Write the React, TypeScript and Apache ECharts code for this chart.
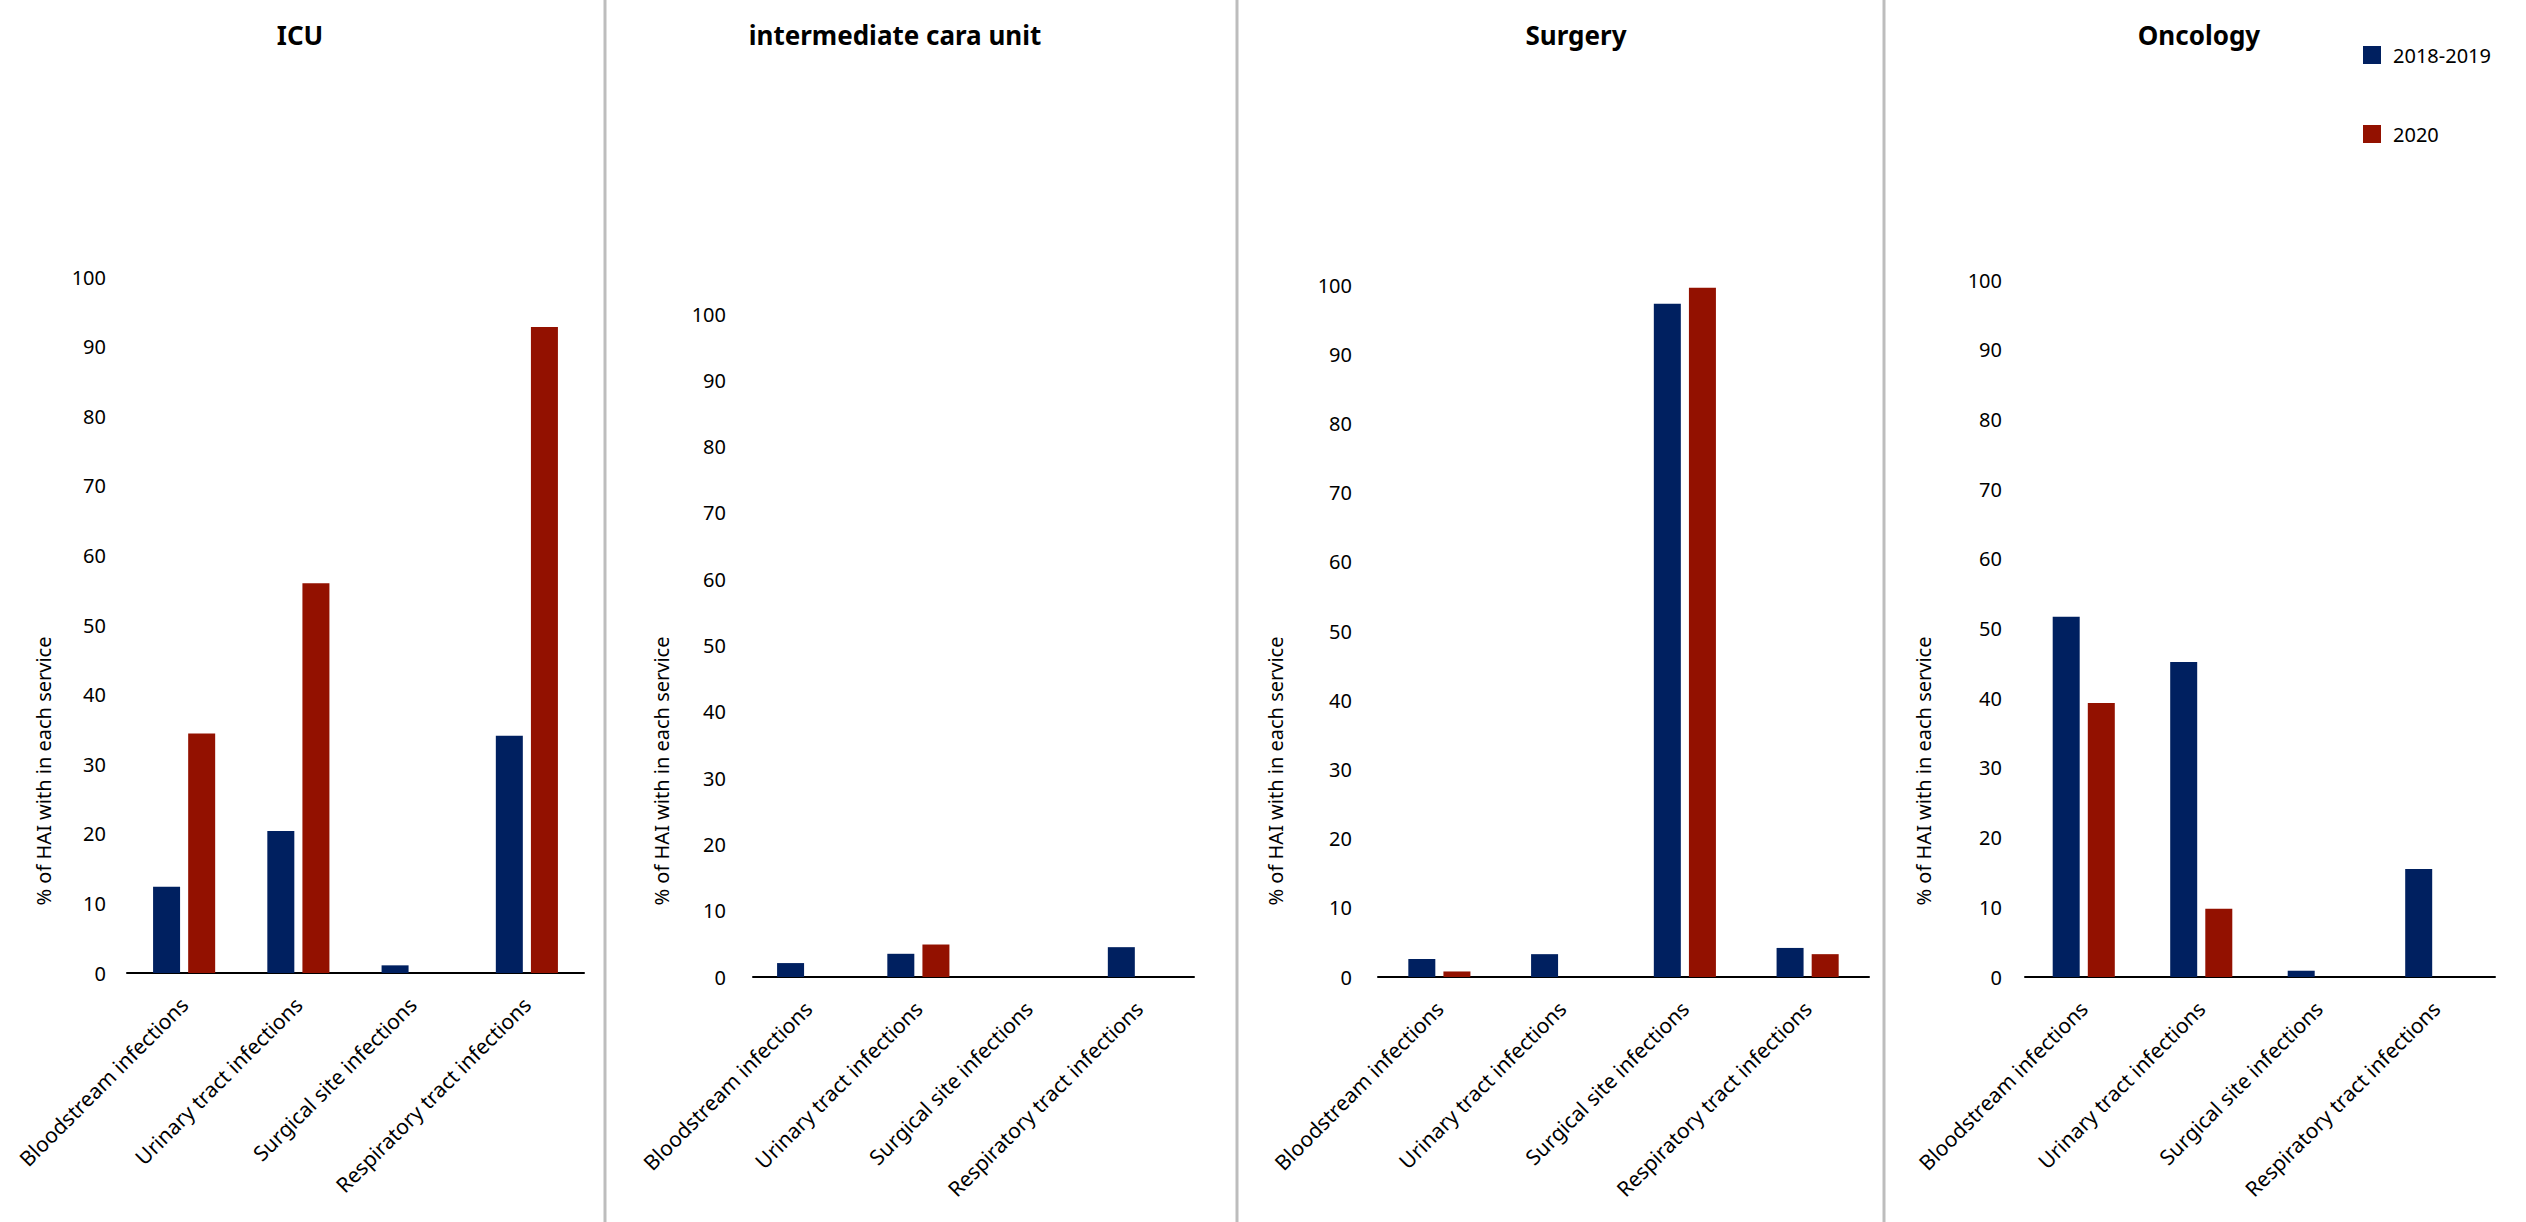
import { useEffect, useRef } from 'react';
import * as echarts from 'echarts';

const categories = [
  'Bloodstream infections',
  'Urinary tract infections',
  'Surgical site infections',
  'Respiratory tract infections',
];
const seriesNames = ['2018-2019', '2020'];
const panelTitles = ['ICU', 'intermediate cara unit', 'Surgery', 'Oncology'];

// % of HAI per service
const icu2018 = [12.4, 20.4, 1.1, 34.1];
const icu2020 = [34.4, 56.0, 0, 92.8];
const imc2018 = [2.1, 3.5, 0, 4.5];
const imc2020 = [0, 4.9, 0, 0];
const surgery2018 = [2.6, 3.3, 97.3, 4.2];
const surgery2020 = [0.8, 0, 99.6, 3.3];
const oncology2018 = [51.7, 45.2, 0.9, 15.5];
const oncology2020 = [39.3, 9.8, 0, 0];

const yTicks = [0, 10, 20, 30, 40, 50, 60, 70, 80, 90, 100];
const yAxisName = '% of HAI with in each service';

const BLUE = '#002060';
const RED = '#931100';
const FONT = '"Noto Sans", "Open Sans", sans-serif';

// panel geometry (px)
const panels = [
  { left: 127, width: 457, top: 277, bottom: 973, labelMargin: 21, titleX: 295, nameX: 43, data: [icu2018, icu2020] },
  { left: 753, width: 441, top: 314, bottom: 977, labelMargin: 27, titleX: 890, nameX: 661, data: [imc2018, imc2020] },
  { left: 1378, width: 491, top: 285, bottom: 977, labelMargin: 26, titleX: 1571, nameX: 1275, data: [surgery2018, surgery2020] },
  { left: 2025, width: 470, top: 280, bottom: 977, labelMargin: 23, titleX: 2194, nameX: 1923, data: [oncology2018, oncology2020] },
];
const separators = [605, 1237, 1884];

export default function App() {
  const chartRef = useRef<HTMLDivElement>(null);

  useEffect(() => {
    if (!chartRef.current) return;
    const chart = echarts.init(chartRef.current, undefined, { renderer: 'svg' });

    const option: echarts.EChartsOption = {
      animation: false,
      backgroundColor: '#ffffff',
      title: panels.map((p, i) => ({
        text: panelTitles[i],
        left: p.titleX,
        top: 17,
        textAlign: 'center',
        textStyle: { fontFamily: FONT, fontWeight: 'bold', fontSize: 26, color: '#000' },
      })),
      legend: {
        orient: 'vertical',
        left: 2358,
        top: 40,
        itemWidth: 18,
        itemHeight: 18,
        itemGap: 59,
        icon: 'rect',
        data: seriesNames,
        textStyle: { fontFamily: FONT, fontSize: 20, color: '#000', padding: [0, 0, 0, 7] },
      },
      grid: panels.map((p) => ({
        left: p.left,
        width: p.width,
        top: p.top,
        height: p.bottom - p.top,
        containLabel: false,
      })),
      xAxis: panels.map((p, i) => ({
        type: 'category',
        gridIndex: i,
        data: categories,
        axisLine: { show: true, lineStyle: { color: '#000', width: 2 } },
        axisTick: { show: false },
        axisLabel: {
          interval: 0,
          rotate: 45,
          margin: 28,
          fontFamily: FONT,
          fontSize: 21,
          color: '#000',
        },
      })),
      yAxis: panels.map((p, i) => ({
        type: 'value',
        gridIndex: i,
        min: yTicks[0],
        max: yTicks[yTicks.length - 1],
        interval: 10,
        axisLine: { show: false },
        axisTick: { show: false },
        splitLine: { show: false },
        axisLabel: { margin: p.labelMargin, fontFamily: FONT, fontSize: 20, color: '#000' },
      })),
      series: panels.flatMap((p, i) =>
        seriesNames.map((name, s) => ({
          name,
          type: 'bar' as const,
          xAxisIndex: i,
          yAxisIndex: i,
          barWidth: 27,
          barGap: '30%',
          itemStyle: { color: s === 0 ? BLUE : RED },
          data: p.data[s],
        }))
      ),
      graphic: [
        ...separators.map((x) => ({
          type: 'line' as const,
          shape: { x1: x, y1: 0, x2: x, y2: 1222 },
          style: { stroke: '#bdbdbd', lineWidth: 3 },
        })),
        ...panels.map((p) => ({
          type: 'text' as const,
          x: p.nameX,
          y: 771,
          rotation: Math.PI / 2,
          style: {
            text: yAxisName,
            fontFamily: FONT,
            fontSize: 20,
            fill: '#000',
            align: 'center',
            verticalAlign: 'middle',
          },
        })),
      ],
    };

    chart.setOption(option);
    return () => {
      chart.dispose();
    };
  }, []);

  return (
    <div
      ref={chartRef}
      style={{ position: 'fixed', left: 0, top: 0, width: '2526px', height: '1222px' }}
    />
  );
}
